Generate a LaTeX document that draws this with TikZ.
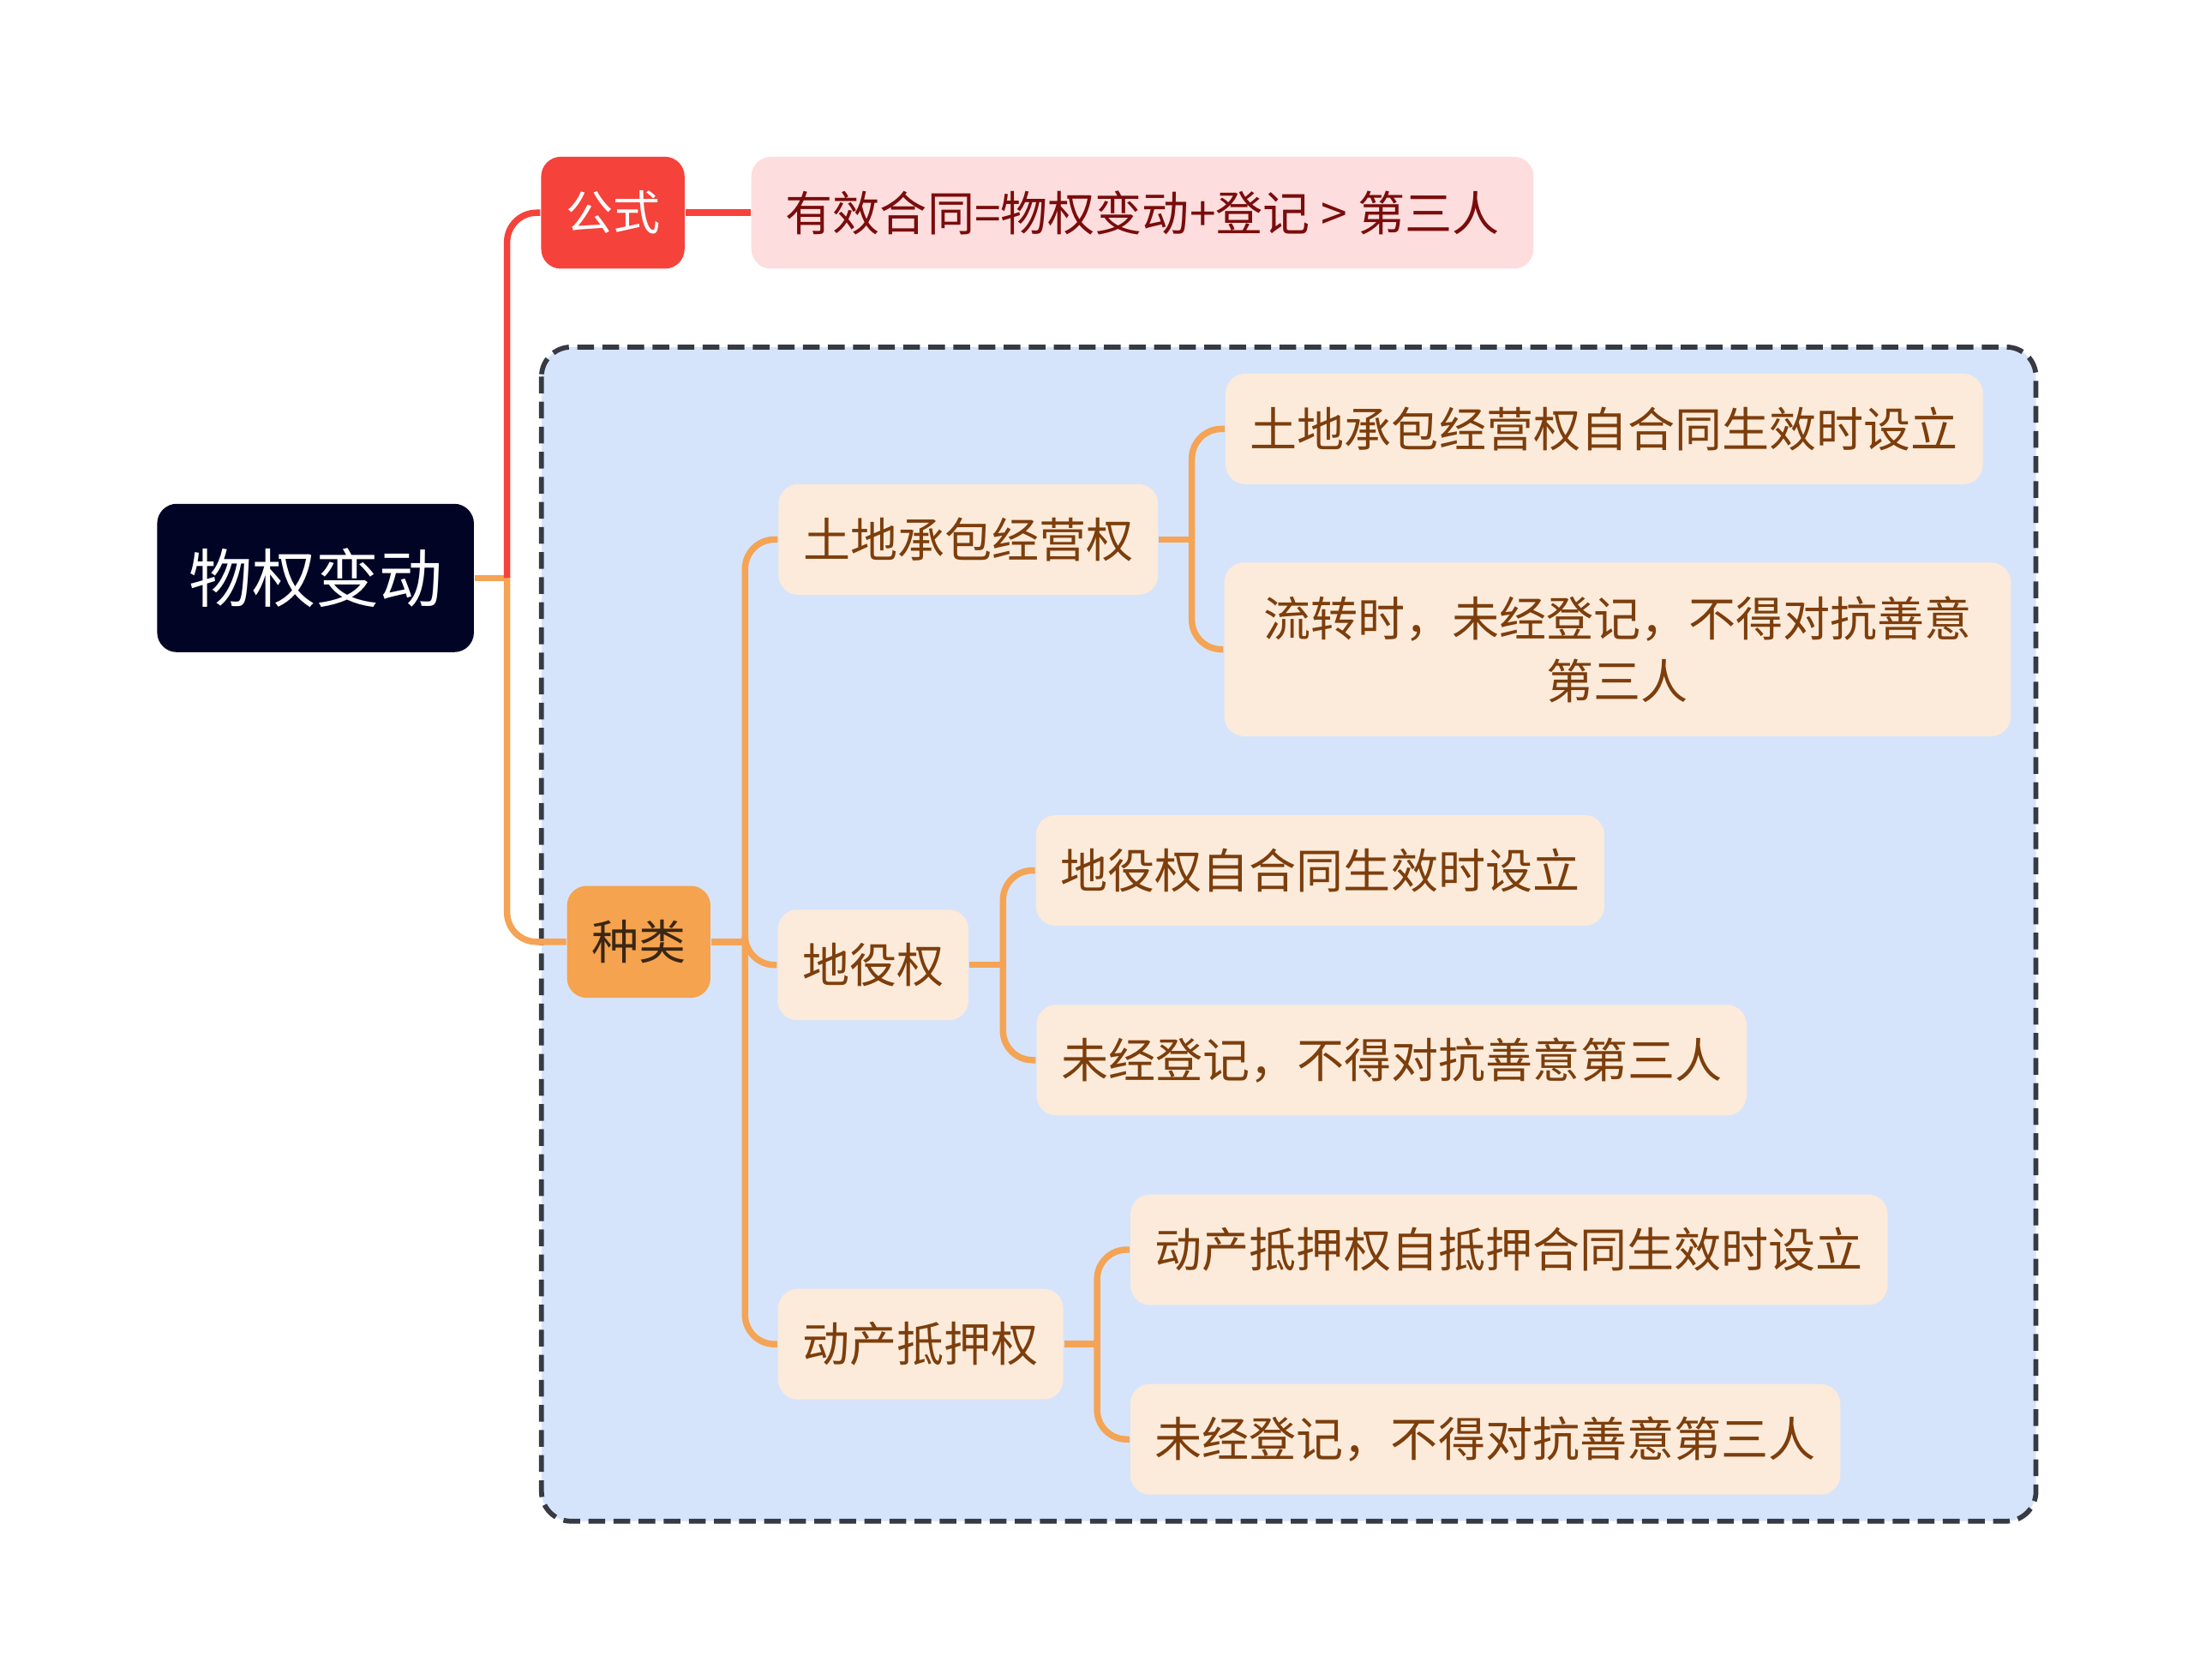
\documentclass[tikz,border=0pt]{standalone}
\usepackage{fontspec}
\setmainfont{Noto Sans CJK SC}
\usepackage{xcolor}
\usetikzlibrary{positioning, calc}
\definecolor{RootNavy}{RGB}{2,4,38}
\definecolor{FormRed}{RGB}{245,66,58}
\definecolor{FormPink}{RGB}{253,221,221}
\definecolor{FormText}{RGB}{122,12,12}
\definecolor{KindOrange}{RGB}{245,163,78}
\definecolor{KindText}{RGB}{58,38,20}
\definecolor{LeafCream}{RGB}{252,235,218}
\definecolor{LeafBrown}{RGB}{125,62,12}
\definecolor{LineOrange}{RGB}{244,164,84}
\definecolor{PanelBlue}{RGB}{214,228,251}
\definecolor{PanelEdge}{RGB}{55,58,66}
\tikzset{
  rootbox/.style={
    rectangle, rounded corners=4pt,
    minimum height=1.06cm, inner xsep=0.225cm,
    fill=RootNavy, text=white,
    font=\fontsize{12.9}{15}\selectfont
  },
  redtag/.style={
    rectangle, rounded corners=4pt,
    minimum height=0.8cm, inner xsep=0.175cm,
    fill=FormRed, text=white,
    font=\fontsize{9.6}{12.8}\selectfont
  },
  formbox/.style={
    rectangle, rounded corners=4pt,
    minimum height=0.8cm, minimum width=5.59cm, inner xsep=0.175cm,
    fill=FormPink, text=FormText,
    font=\fontsize{9.6}{12.8}\selectfont
  },
  kindbox/.style={
    rectangle, rounded corners=4pt,
    minimum height=0.8cm, inner xsep=0.175cm,
    fill=KindOrange, text=KindText,
    font=\fontsize{9.6}{12.8}\selectfont
  },
  leaf/.style={
    rectangle, rounded corners=4pt,
    minimum height=0.79cm, inner xsep=0.175cm,
    fill=LeafCream, text=LeafBrown,
    font=\fontsize{9.6}{12.8}\selectfont
  },
  rline/.style={draw=FormRed, line width=1.3pt, rounded corners=6pt},
  oline/.style={draw=LineOrange, line width=1.3pt, rounded corners=6pt}
}
\begin{document}
\begin{tikzpicture}
  \useasboundingbox (0,0) rectangle (15.68,-12);

  % Panel behind the kinds
  \fill[PanelBlue, rounded corners=6pt] (3.87,-2.48) rectangle (14.55,-10.87);
  \draw[PanelEdge, line width=1pt, dash pattern=on 3.4pt off 1.7pt, rounded corners=6pt]
        (3.87,-2.48) rectangle (14.55,-10.87);

  % ── Root and formula ──
  \node[rootbox] (root) at (2.255,-4.13) {物权变动};
  \node[redtag]  (gs)   at (4.38,-1.52)  {公式};
  \node[formbox] (fm)   at (8.165,-1.52) {有效合同=物权变动+登记 > 第三人};

  % ── Kinds ──
  \node[kindbox] (zl) at (4.565,-6.73) {种类};
  \node[leaf] (tdcb) at (6.92,-3.855) {土地承包经营权};
  \node[leaf] (dyq)  at (6.24,-6.895) {地役权};
  \node[leaf] (dcdy) at (6.58,-9.605) {动产抵押权};

  % ── Leaves ──
  \node[leaf] (tdcb1) at (11.465,-3.065) {土地承包经营权自合同生效时设立};
  \node[leaf, align=center, minimum width=5.62cm, minimum height=1.24cm]
              (tdcb2) at (11.56,-4.64) {流转时，未经登记，不得对抗善意\\第三人};
  \node[leaf] (dyq1)  at (9.435,-6.22)  {地役权自合同生效时设立};
  \node[leaf] (dyq2)  at (9.945,-7.575) {未经登记，不得对抗善意第三人};
  \node[leaf] (dcdy1) at (10.785,-8.93) {动产抵押权自抵押合同生效时设立};
  \node[leaf] (dcdy2) at (10.615,-10.285) {未经登记，不得对抗善意第三人};

  % ── Connectors ──
  \coordinate (rj) at ([xshift=0.23cm]root.east);
  \coordinate (zj) at ([xshift=0.24cm]zl.east);
  \coordinate (tj) at ([xshift=0.235cm]tdcb.east);
  \coordinate (dj) at ([xshift=0.24cm]dyq.east);
  \coordinate (cj) at ([xshift=0.235cm]dcdy.east);
  \draw[oline] (root.east) -- (rj);
  \draw[oline] (rj) |- (zl.west);
  \draw[rline] (rj) |- (gs.west);
  \draw[rline] (gs) -- (fm);
  \draw[oline] (zl.east) -- (zj);
  \draw[oline] (zj) |- (tdcb.west);
  \draw[oline] (zj) |- (dyq.west);
  \draw[oline] (zj) |- (dcdy.west);
  \draw[oline] (tdcb.east) -- (tj);
  \draw[oline] (tj) |- (tdcb1.west);
  \draw[oline] (tj) |- (tdcb2.west);
  \draw[oline] (dyq.east) -- (dj);
  \draw[oline] (dj) |- (dyq1.west);
  \draw[oline] (dj) |- (dyq2.west);
  \draw[oline] (dcdy.east) -- (cj);
  \draw[oline] (cj) |- (dcdy1.west);
  \draw[oline] (cj) |- (dcdy2.west);
\end{tikzpicture}
\end{document}
